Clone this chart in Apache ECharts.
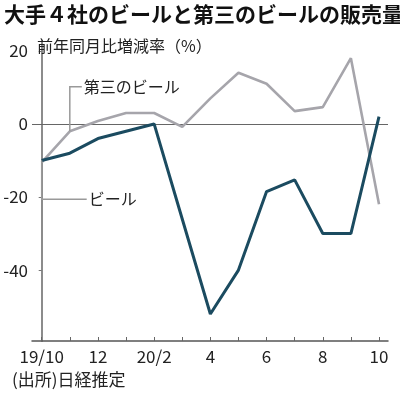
<!DOCTYPE html>
<html><head><meta charset="utf-8">
<script src="https://cdn.jsdelivr.net/npm/echarts@6/dist/echarts.min.js"></script>
<style>html,body{margin:0;padding:0;background:#fff}#c{width:400px;height:395px}</style>
</head><body><div id="c"></div>
<script>
// Data (year-over-year change, %)
const months = ['19/10','11','12','20/1','20/2','3','4','5','6','7','8','9','10'];
const tickLabels = {0:'19/10',2:'12',4:'20/2',6:'4',8:'6',10:'8',12:'10'};
const beer  = [-10, -8, -4, -2, 0, -26, -52, -40, -18.5, -15.3, -30, -30, 2];
const third = [-10.5, -2, 0.8, 3, 3, -0.8, 7, 14, 11, 3.5, 4.6, 18, -22];
const yTicks = [-40, -20, 0, 20];

const CJK = '"Noto Sans CJK JP", sans-serif';
const NUM = '"Liberation Sans Narrow", "Noto Sans CJK JP", sans-serif';
const chart = echarts.init(document.getElementById('c'), null, {renderer:'canvas'});
const option = {
  animation: false,
  backgroundColor: '#fff',
  title: {text: '大手４社のビールと第三のビールの販売量', left: -1, top: -1,
    textStyle: {fontFamily: CJK, fontSize: 21, fontWeight: 'bold', color: '#111'}},
  grid: {left: 32, right: 12, top: 41, bottom: 54},
  xAxis: {type: 'value', min: -0.345, max: 12.32,
    axisLine: {onZero: false, lineStyle: {color: '#555', width: 1.5}},
    axisTick: {inside: true, length: 4, customValues: months.map((m,i)=>i), lineStyle: {color: '#666'}},
    axisLabel: {customValues: Object.keys(tickLabels).map(Number), formatter: v => tickLabels[Math.round(v)] || '',
      fontFamily: NUM, fontSize: 17, color: '#222', margin: 7},
    splitLine: {show: false}},
  yAxis: {type: 'value', min: -59.4, max: 22.7,
    axisLine: {show: true, lineStyle: {color: '#8c8c8c', width: 2}},
    axisTick: {show: true, inside: false, length: 3, customValues: yTicks, lineStyle: {color: '#777'}},
    axisLabel: {customValues: yTicks, fontFamily: NUM, fontSize: 17, color: '#222', margin: 4},
    splitLine: {show: false}},
  series: [
    {name: '第三のビール', type: 'line', data: third.map((v,i)=>[i,v]), symbol: 'none',
      lineStyle: {color: '#a6a5ab', width: 2.6}, z: 2},
    {name: 'ビール', type: 'line', data: beer.map((v,i)=>[i,v]), symbol: 'none',
      lineStyle: {color: '#1b4b60', width: 3}, z: 3,
      markLine: {silent: true, symbol: 'none', label: {show: false},
        lineStyle: {color: '#666', width: 1.2, type: 'solid'}, data: [{yAxis: 0}], z: 1}}
  ]
};
chart.setOption(option);

const px = (x, y) => chart.convertToPixel({gridIndex: 0}, [x, y]);
const a1 = px(1, third[1]); const t1 = px(1, 10.2);
const a2 = px(0, beer[0]); const t2 = px(0, -20.6);
chart.setOption({graphic: [
  {type: 'polyline', shape: {points: [[a1[0], a1[1]], [a1[0], t1[1]], [a1[0] + 12, t1[1]]]},
    style: {stroke: '#999', lineWidth: 1.5, fill: null}, z: 10},
  {type: 'text', x: a1[0] + 14, y: t1[1], style: {text: '第三のビール', font: '16px ' + CJK, fill: '#222', verticalAlign: 'middle'}, z: 10},
  {type: 'polyline', shape: {points: [[a2[0], a2[1]], [a2[0], t2[1]], [a2[0] + 45, t2[1]]]},
    style: {stroke: '#999', lineWidth: 1.5, fill: null}, z: 10},
  {type: 'text', x: a2[0] + 47, y: t2[1], style: {text: 'ビール', font: '16px ' + CJK, fill: '#222', verticalAlign: 'middle'}, z: 10},
  {type: 'text', x: 37, y: 46, style: {text: '前年同月比増減率（%）', font: '16px ' + CJK, fill: '#222', verticalAlign: 'middle'}, z: 10},
  {type: 'text', x: 12, y: 380, style: {text: '(出所)日経推定', font: '17px ' + CJK, fill: '#222', verticalAlign: 'middle'}, z: 10}
]});
</script></body></html>
